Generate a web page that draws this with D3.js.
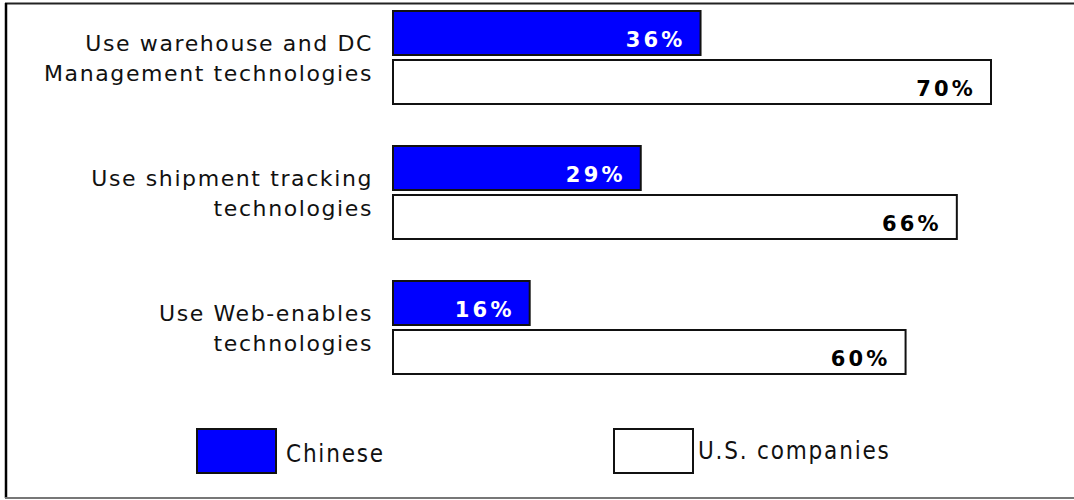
<!DOCTYPE html>
<html><head><meta charset="utf-8">
<script src="https://cdn.jsdelivr.net/npm/d3@7"></script>
<style>body{margin:0;background:#fff}svg{display:block}</style>
</head><body>
<script>
const categories = [["Use warehouse and DC","Management technologies"],["Use shipment tracking","technologies"],["Use Web-enables","technologies"]];
const chinese = [36, 29, 16];
const us = [70, 66, 60];
const seriesNames = ["Chinese", "U.S. companies"];
const seriesColors = ["#0000FF", "#FFFFFF"];

const W = 1074, H = 500;
const svg = d3.select("body").append("svg").attr("width", W).attr("height", H);

// frame
svg.append("line").attr("x1",5).attr("x2",1074).attr("y1",3.5).attr("y2",3.5).attr("stroke","#222").attr("stroke-width",2);
svg.append("line").attr("x1",6).attr("x2",6).attr("y1",3).attr("y2",498).attr("stroke","#000").attr("stroke-width",2.5);
svg.append("line").attr("x1",5).attr("x2",1074).attr("y1",498).attr("y2",498).attr("stroke","#777").attr("stroke-width",2);

const x = d3.scaleLinear().domain([0, 70]).range([393, 991]);
const yGroup = d3.scaleBand().domain(d3.range(categories.length)).range([11, 416]);
const barH = 44, gap = 5;

const g = svg.selectAll("g.grp").data(categories).join("g").attr("class","grp")
  .attr("transform",(d,i)=>`translate(0,${yGroup(i)})`);

const series = [chinese, us];
series.forEach((vals, s) => {
  const y0 = s === 0 ? 0 : barH + gap;
  g.append("rect")
    .attr("x", x(0))
    .attr("y", y0)
    .attr("width", (d,i)=>x(vals[i]) - x(0))
    .attr("height", barH)
    .attr("fill", seriesColors[s])
    .attr("stroke", "#111").attr("stroke-width", 2);
  g.append("text")
    .attr("x", (d,i)=>x(vals[i]) - 15)
    .attr("y", y0 + barH - 8)
    .attr("text-anchor","end")
    .attr("font-family","DejaVu Sans").attr("font-weight","bold")
    .attr("font-size",21).attr("letter-spacing",3.2)
    .attr("fill", s === 0 ? "#fff" : "#000")
    .text((d,i)=>vals[i] + "%");
});

g.each(function(lines){
  const t = d3.select(this).append("text")
    .attr("text-anchor","end")
    .attr("font-family","DejaVu Sans").attr("font-size",22).attr("letter-spacing",1.6)
    .attr("fill","#111");
  lines.forEach((ln,k)=>{
    t.append("tspan").attr("x",373).attr("y",40 + k*30).text(ln);
  });
});

// legend
const legX = [197, 614];
const legTY = [462, 459];
const lg = svg.selectAll("g.leg").data(seriesNames).join("g").attr("class","leg");
lg.append("rect").attr("x",(d,i)=>legX[i]).attr("y",429).attr("width",79).attr("height",44)
  .attr("fill",(d,i)=>seriesColors[i]).attr("stroke","#111").attr("stroke-width",2);
lg.append("text").attr("x",(d,i)=>legX[i]+89-(i*5)).attr("y",(d,i)=>legTY[i])
  .attr("font-family","DejaVu Sans Condensed, DejaVu Sans").attr("font-size",24).attr("letter-spacing",1.8)
  .attr("fill","#111").text(d=>d);
</script>
</body></html>
